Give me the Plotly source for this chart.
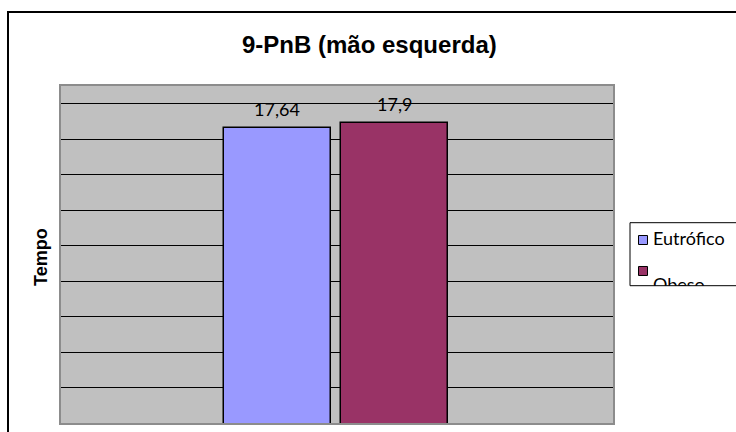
import plotly.graph_objects as go

# Data
categories = ["Eutrófico", "Obeso"]
values = [17.64, 17.9]
colors = ["#9999FF", "#993366"]

W, H = 736, 432

# Pixel helpers (margins are zero, so paper coords = figure fraction)
def px_x(x):
    return x / W

def px_y(y):
    return 1 - y / H

fig = go.Figure()

# Bars
fig.add_trace(go.Bar(
    x=categories,
    y=values,
    width=0.91,
    marker=dict(color=colors, line=dict(color="#000000", width=1.5)),
    hoverinfo="skip",
    xaxis="x", yaxis="y",
))

# Value labels above each bar, with comma decimals
for cat, val in zip(categories, values):
    fig.add_annotation(
        x=cat, y=val, xref="x", yref="y",
        text=f"{val:g}".replace(".", ","),
        showarrow=False, yanchor="middle", yshift=19,
        font=dict(family="Lato", size=18, color="#000000"),
    )

# Legend drawn in a small helper subplot so its text is clipped by the box
leg_top, leg_bottom, leg_left = 222.7, 285.7, 630
fig.add_trace(go.Scatter(
    x=[13, 13], y=[17.3, 48.3],
    mode="markers",
    marker=dict(symbol="square", size=9, color=colors,
                line=dict(color="#000000", width=1)),
    hoverinfo="skip", cliponaxis=True,
    xaxis="x2", yaxis="y2",
))
fig.add_trace(go.Scatter(
    x=[23, 23], y=[17.3, 64.0],
    mode="text",
    text=categories,
    textposition="middle right",
    textfont=dict(family="Lato", size=18, color="#000000"),
    hoverinfo="skip", cliponaxis=True,
    xaxis="x2", yaxis="y2",
))

shapes = [
    # plot area fill
    dict(type="rect", xref="x domain", yref="y domain", x0=0, x1=1, y0=0, y1=1,
         fillcolor="#C0C0C0", line=dict(width=0), layer="below"),
    # outer chart frame
    dict(type="rect", xref="paper", yref="paper",
         x0=px_x(8), x1=1.2, y0=-0.2, y1=px_y(12),
         line=dict(color="#000000", width=2), fillcolor="rgba(0,0,0,0)"),
    # legend box
    dict(type="rect", xref="paper", yref="paper",
         x0=px_x(leg_left), x1=1.2, y0=px_y(leg_bottom), y1=px_y(leg_top),
         line=dict(color="#000000", width=1), fillcolor="rgba(0,0,0,0)"),
]

fig.update_layout(
    width=W, height=H,
    margin=dict(l=0, r=0, t=0, b=0),
    paper_bgcolor="#FFFFFF",
    plot_bgcolor="#FFFFFF",
    showlegend=False,
    bargap=0,
    shapes=shapes,
    xaxis=dict(
        domain=[px_x(61), px_x(613)],
        range=[-1.850, 2.868],
        showticklabels=False, ticks="", showgrid=False, zeroline=False,
        showline=True, mirror=True, linecolor="#8C8C8C", linewidth=2,
        fixedrange=True,
    ),
    yaxis=dict(
        domain=[px_y(423), px_y(86)],
        range=[1, 20], tick0=1, dtick=2,
        showticklabels=False, ticks="", zeroline=False,
        showgrid=True, gridcolor="#000000", gridwidth=1,
        showline=True, mirror=True, linecolor="#8C8C8C", linewidth=2,
        fixedrange=True,
    ),
    xaxis2=dict(
        domain=[px_x(leg_left), 1], range=[0, W - leg_left],
        visible=False, anchor="y2", fixedrange=True,
    ),
    yaxis2=dict(
        domain=[px_y(leg_bottom), px_y(leg_top)], range=[leg_bottom - leg_top, 0],
        visible=False, anchor="x2", fixedrange=True,
    ),
)

# Title
fig.add_annotation(
    x=px_x(369.5), y=px_y(44), xref="paper", yref="paper",
    text="9-PnB (mão esquerda)", showarrow=False,
    xanchor="center", yanchor="middle",
    font=dict(family="Liberation Sans, Arial", size=24, color="#000000", weight=700),
)

# Y axis title
fig.add_annotation(
    x=px_x(41), y=px_y(257), xref="paper", yref="paper",
    text="Tempo", showarrow=False, textangle=-90,
    xanchor="center", yanchor="middle",
    font=dict(family="Liberation Sans, Arial", size=18, color="#000000", weight=700),
)

fig.write_html("out.html")
